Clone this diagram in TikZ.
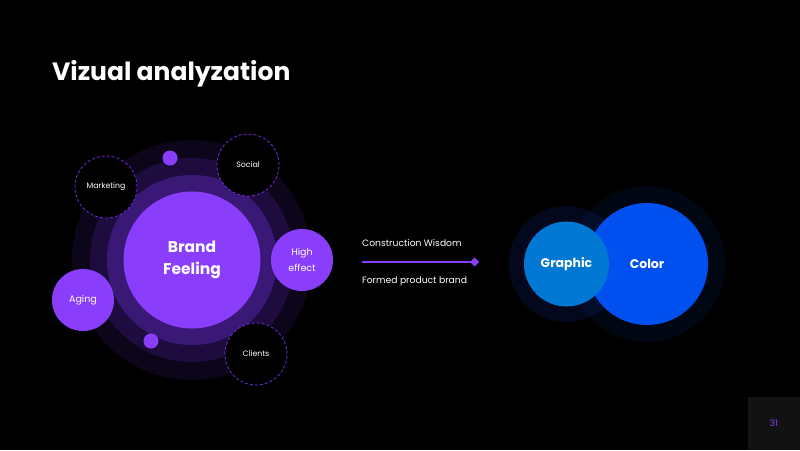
\documentclass[tikz,border=0pt]{standalone}
\usepackage{fontspec}
\setmainfont{Poppins}
\usetikzlibrary{arrows.meta}
\definecolor{pmain}{RGB}{138,62,252}
\definecolor{pring2}{RGB}{58,24,118}
\definecolor{pring3}{RGB}{30,12,62}
\definecolor{pring4}{RGB}{13,6,27}
\definecolor{pdash}{RGB}{112,44,226}
\definecolor{gblue}{RGB}{0,120,212}
\definecolor{cblue}{RGB}{0,80,240}
\definecolor{halo}{RGB}{4,8,28}
\definecolor{pagebox}{RGB}{18,18,18}
\begin{document}
\begin{tikzpicture}[x=1pt,y=-1pt,
  fill circ/.style={circle,fill=pmain,inner sep=0pt,minimum size=62pt,text=white,font=\fontsize{9.5}{16.5}\selectfont,align=center},
  dash circ/.style={circle,draw=pdash,densely dashed,line width=0.8pt,fill=black,inner sep=0pt,minimum size=62pt,text=white,font=\fontsize{7.8}{9}\selectfont},
  dot/.style={circle,fill=pmain,inner sep=0pt,minimum size=15pt},
  lbl/.style={text=white,font=\fontsize{9.2}{11}\selectfont,anchor=west,inner sep=0pt}]
\fill[black] (0,0) rectangle (800,450);
\useasboundingbox (0,0) rectangle (800,450);
% title
\node[anchor=base west,inner sep=0pt,text=white,font=\fontsize{25}{29}\selectfont\bfseries] (title) at (52,80) {Vizual analyzation};
% rings
\fill[pring4] (192,260) circle (120);
\fill[pring3] (192,260) circle (102);
\fill[pring2] (192,260) circle (85);
\node[circle,fill=pmain,minimum size=137pt,inner sep=0pt,text=white,align=center,font=\fontsize{15.5}{22}\selectfont\bfseries] (brand) at (192,260) {Brand\\Feeling};
% satellites
\node[dash circ] (mkt) at (106,187) {Marketing};
\node[dash circ] (soc) at (248,165) {Social};
\node[dash circ] (cli) at (256,354) {Clients};
\node[fill circ] (high) at (302,260) {High\\effect};
\node[fill circ] (aging) at (83,300) {Aging};
\node[dot] (d1) at (170,158) {};
\node[dot] (d2) at (151,341) {};
% arrow
\coordinate (as) at (362,262);
\coordinate (ae) at (479,262);
\draw[pmain,line width=2.6pt,-{Diamond[length=9pt,width=9pt]}] (as) -- (ae);
\node[lbl] (cw) at (362,243) {Construction Wisdom};
\node[lbl] (fp) at (362,281) {Formed product brand};
% right circles
\fill[halo] (566.5,264) circle (58);
\fill[cblue,opacity=0.08] (647,264) circle (78);
\node[circle,fill=cblue,minimum size=122pt,inner sep=0pt] (color) at (647,264) {};
\node[circle,fill=gblue,minimum size=85pt,inner sep=0pt,text=white,font=\fontsize{12.5}{15}\selectfont\bfseries] (graphic) at (566.5,264) {Graphic};
\node[text=white,font=\fontsize{12.5}{15}\selectfont\bfseries] (colortxt) at (647,264) {Color};
% page number
\fill[pagebox] (748,397) rectangle (800,450);
\node[text=pmain,font=\fontsize{9}{10}\selectfont] (pg) at (774,423) {31};
\end{tikzpicture}
\end{document}
